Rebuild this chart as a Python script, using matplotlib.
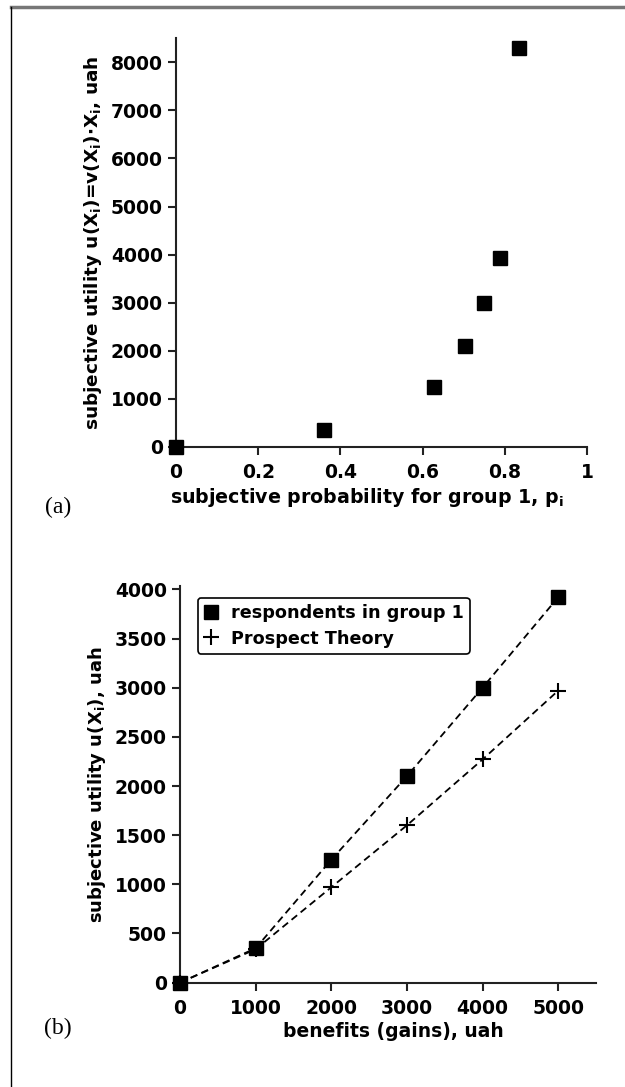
import numpy as np
import matplotlib
matplotlib.use('Agg')
import matplotlib.pyplot as plt
from matplotlib.lines import Line2D

plt.rcParams['font.family'] = ['DejaVu Sans']
plt.rcParams['font.weight'] = 'bold'
plt.rcParams['mathtext.fontset'] = 'custom'
plt.rcParams['mathtext.rm'] = 'DejaVu Sans:bold'
plt.rcParams['mathtext.it'] = 'DejaVu Sans:bold'
plt.rcParams['mathtext.bf'] = 'DejaVu Sans:bold'

# panel (a)
prob = [0, 0.36, 0.627, 0.703, 0.75, 0.788, 0.834]
util_a = [0, 350, 1250, 2100, 3000, 3920, 8300]
xticks_a = [0, 0.2, 0.4, 0.6, 0.8, 1]
xticklabels_a = ['0', '0.2', '0.4', '0.6', '0.8', '1']

# panel (b)
gains = [0, 1000, 2000, 3000, 4000, 5000]
util_group1 = [0, 350, 1250, 2100, 3000, 3920]
util_prospect = [0, 340, 970, 1600, 2270, 2970]

fig = plt.figure(figsize=(6.25, 10.87), dpi=100)

# frame lines at top and left of the picture
fig.add_artist(Line2D([0.0176, 1], [0.9935, 0.9935], color='#777777', lw=2.5))
fig.add_artist(Line2D([0.0176, 0.0176], [0, 0.9935], color='black', lw=1))


def style(ax):
    for s in ['top', 'right']:
        ax.spines[s].set_visible(False)
    for s in ['left', 'bottom']:
        ax.spines[s].set_linewidth(1.5)
        ax.spines[s].set_color('#222222')
    ax.tick_params(direction='out', length=5.5, width=1.5, labelsize=13.5, color='#222222')
    ax.tick_params(axis='x', pad=6)
    ax.tick_params(axis='y', pad=4)
    for lab in ax.get_xticklabels() + ax.get_yticklabels():
        lab.set_fontweight('bold')


ax1 = fig.add_axes([0.2816, 0.5888, 0.6576, 0.376])
ax1.plot(prob, util_a, 's', color='black', ms=9.5, clip_on=False, zorder=5)
ax1.set_xlim(0, 1)
ax1.set_ylim(0, 8500)
ax1.set_xticks(xticks_a)
ax1.set_xticklabels(xticklabels_a)
ax1.set_yticks(np.arange(0, 8001, 1000))
style(ax1)
ax1.set_xlabel(r'subjective probability for group 1, p$_{\rm i}$', fontsize=13.7, fontweight='bold', labelpad=3)
ax1.xaxis.label.set_x(0.465)
ax1.set_ylabel(r'subjective utility u(X$_{\rm i}$)=v(X$_{\rm i}$)$\cdot$X$_{\rm i}$, uah', fontsize=13.3,
               fontweight='bold', labelpad=5)
fig.text(0.093, 0.533, '(a)', fontsize=17, fontfamily='Liberation Serif', fontweight='normal',
         ha='center', va='center')

ax2 = fig.add_axes([0.288, 0.096, 0.6656, 0.3645])
ax2.plot(gains, util_group1, 's--', color='black', ms=10.5, lw=1.3, dashes=(4, 2.5),
         clip_on=False, zorder=5, label='respondents in group 1')
ax2.plot(gains, util_prospect, '+--', color='black', ms=12, mew=1.5, lw=1.3, dashes=(4, 2.5),
         clip_on=False, zorder=4, label='Prospect Theory')
ax2.set_xlim(0, 5500)
ax2.set_ylim(0, 4030)
ax2.set_xticks(gains)
ax2.set_yticks(np.arange(0, 4001, 500))
style(ax2)
ax2.set_xlabel('benefits (gains), uah', fontsize=13.5, fontweight='bold', labelpad=3)
ax2.xaxis.label.set_x(0.512)
ax2.set_ylabel(r'subjective utility u(X$_{\rm i}$), uah', fontsize=13, fontweight='bold', labelpad=5)
leg = ax2.legend(loc='upper left', bbox_to_anchor=(0.043, 0.972), borderaxespad=0, fontsize=12.7,
                 frameon=True, fancybox=True, edgecolor='black', handlelength=0.8, handletextpad=0.7,
                 borderpad=0.35, labelspacing=0.45)
for h in leg.legend_handles:
    h.set_linestyle('None')
leg.get_frame().set_linewidth(1.2)
leg.get_frame().set_alpha(1)
for t in leg.get_texts():
    t.set_fontweight('bold')
fig.text(0.093, 0.054, '(b)', fontsize=17, fontfamily='Liberation Serif', fontweight='normal',
         ha='center', va='center')

fig.savefig('out.png', dpi=100)
